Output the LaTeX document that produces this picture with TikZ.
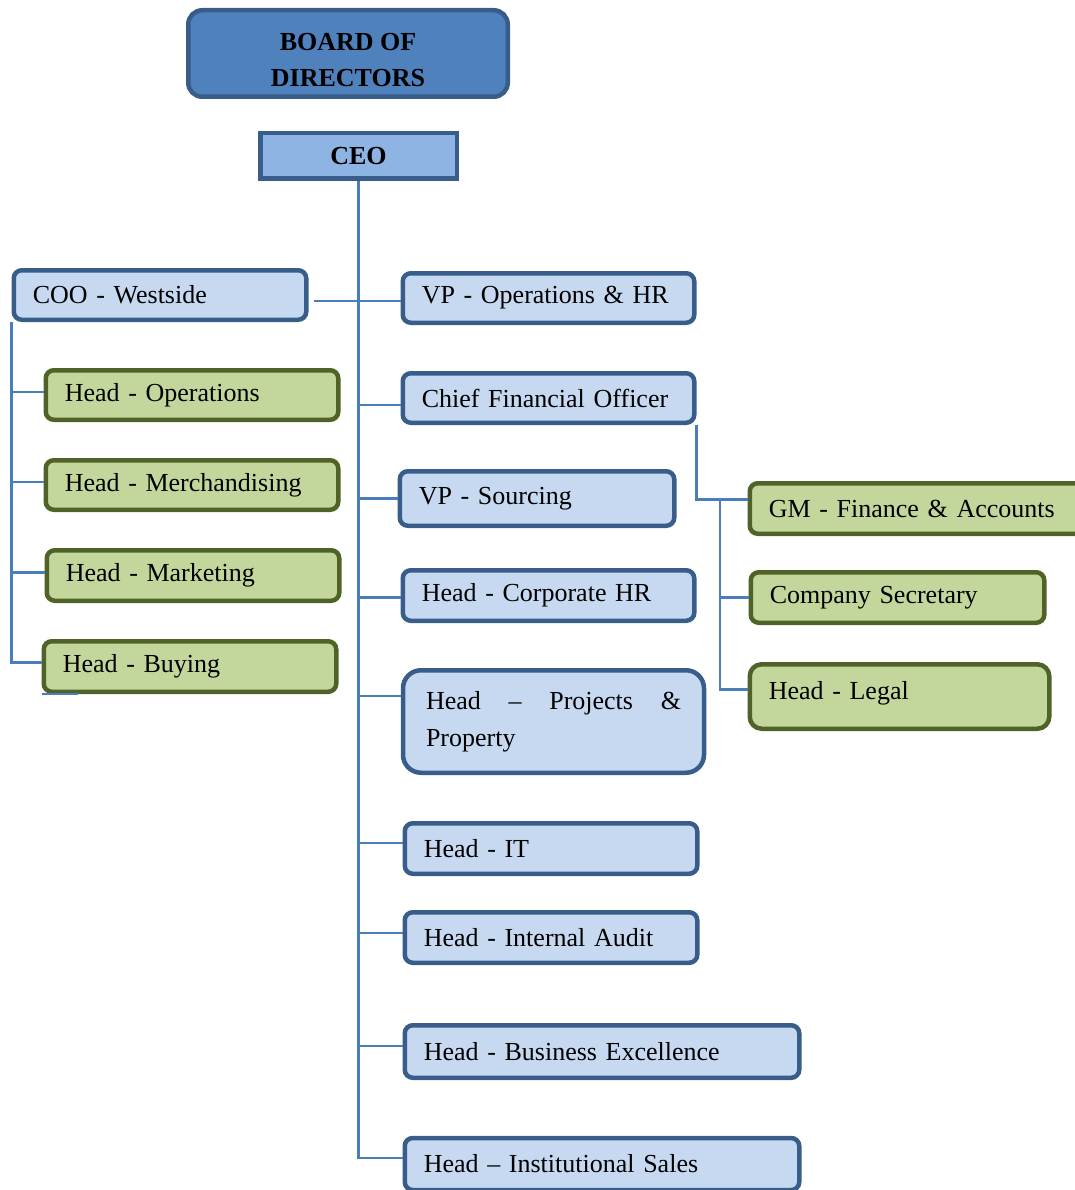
\documentclass[tikz,border=0pt]{standalone}
\usepackage{fontspec}
\setmainfont{Liberation Serif}
\usetikzlibrary{calc,positioning}
\definecolor{boardfill}{HTML}{4F81BD}
\definecolor{darkline}{HTML}{385D8A}
\definecolor{ceofill}{HTML}{8EB4E3}
\definecolor{bluefill}{HTML}{C6D9F1}
\definecolor{greenfill}{HTML}{C3D69B}
\definecolor{greenline}{HTML}{4F6228}
\definecolor{linkblue}{HTML}{4A7EBB}
\tikzset{
    x=1pt,y=-1pt,
    post/.style ={draw=darkline, fill=bluefill, line width=4.5pt, rounded corners=8pt,
                  inner xsep=19pt, inner ysep=0pt, align=left,
                  font=\fontsize{26}{37}\selectfont},
    gpost/.style={post, draw=greenline, fill=greenfill},
    link/.style ={draw=linkblue, line width=2.2pt}
}
\begin{document}
\begin{tikzpicture}
    \useasboundingbox (0,0) rectangle (1075,1190);
    \node[post, fill=boardfill, rounded corners=14pt, minimum width=319.5, minimum height=86.5,
          align=center, font=\fontsize{26}{36}\selectfont\bfseries] (board) at (348,53.5) {\rule{0pt}{30pt}BOARD OF\\DIRECTORS};
    \node[post, fill=ceofill, rounded corners=0pt, minimum width=196.5, minimum height=45.5,
          align=center, font=\fontsize{26}{37}\selectfont\bfseries] (ceo) at (358.5,156) {CEO};

    \node[post, minimum width=291.5, minimum height=49.5, text width=254.5] (coo) at (160,295) {COO - Westside};
    \node[gpost, minimum width=291.5, minimum height=49.5, text width=254.5] (hops) at (192,395) {Head - Operations};
    \node[gpost, minimum width=291.5, minimum height=49.5, text width=254.5] (merch) at (192,485) {Head - Merchandising};
    \node[gpost, minimum width=291.5, minimum height=50.5, text width=254.5] (mkt) at (193,575.5) {Head - Marketing};
    \node[gpost, minimum width=291.5, minimum height=50.5, text width=254.5] (buy) at (190,666.5) {Head - Buying};

    \node[post, minimum width=290.5, minimum height=49.5, text width=253.5] (vpops) at (548.5,298) {VP - Operations \& HR};
    \node[post, minimum width=290.5, minimum height=49.5, text width=253.5] (cfo) at (548.5,398) {Chief Financial Officer};
    \node[post, minimum width=273.5, minimum height=54.5, text width=236.5] (vpsrc) at (537,498.5) {VP - Sourcing};
    \node[post, minimum width=290.5, minimum height=50.5, text width=253.5] (corphr) at (548.5,595.5) {Head - Corporate HR};
    \node[post, rounded corners=18pt, minimum width=300.5, minimum height=102.5, text width=255,
          inner xsep=23pt, align=justify] (proj) at (553.5,721.5) {Head – Projects \& \mbox{Property}};
    \node[post, minimum width=291.5, minimum height=50.5, text width=254.5] (it) at (551,848.5) {Head - IT};
    \node[post, minimum width=291.5, minimum height=50.5, text width=254.5] (audit) at (551,937.5) {Head - Internal Audit};
    \node[post, minimum width=393.5, minimum height=52.5, text width=356.5] (bizex) at (602,1051.5) {Head - Business Excellence};
    \node[post, minimum width=393.5, minimum height=52, text width=356.5] (inst) at (602,1164) {Head – Institutional Sales};

    \node[gpost, minimum width=332.5, minimum height=50.5, text width=295.5] (gmfin) at (916.5,508.5) {GM - Finance \& Accounts};
    \node[gpost, minimum width=292.5, minimum height=50.5, text width=255.5] (cosec) at (897.5,597.5) {Company Secretary};
    \node[gpost, rounded corners=12pt, minimum width=298.5, text width=261.5,
          text height=35.5pt, text depth=29pt] (legal) at (899.5,696.5) {Head - Legal};

    \draw[link] (ceo.south) |- ([yshift=6pt]inst.west);
    \draw[link] ($(coo.east)+(5,6)$) -- ($(vpops.west)+(0,3)$);
    \draw[link] ([yshift=-7pt]cfo.west) -- ([yshift=-7pt]cfo.west -| ceo.south);
    \draw[link] (vpsrc.west) -- (vpsrc.west -| ceo.south);
    \draw[link] ([yshift=-2pt]corphr.west) -- ([yshift=-2pt]corphr.west -| ceo.south);
    \draw[link] ([yshift=25.5pt]proj.west) -- ([yshift=25.5pt]proj.west -| ceo.south);
    \draw[link] ([yshift=5.5pt]it.west) -- ([yshift=5.5pt]it.west -| ceo.south);
    \draw[link] ([yshift=4.5pt]audit.west) -- ([yshift=4.5pt]audit.west -| ceo.south);
    \draw[link] ([yshift=5.5pt]bizex.west) -- ([yshift=5.5pt]bizex.west -| ceo.south);

    \draw[link] (coo.south west) |- ([yshift=4pt]buy.west);
    \draw[link] ([yshift=3pt]hops.west) -- ([yshift=3pt]hops.west -| coo.south west);
    \draw[link] ([yshift=3pt]merch.west) -- ([yshift=3pt]merch.west -| coo.south west);
    \draw[link] ([yshift=3pt]mkt.west) -- ([yshift=3pt]mkt.west -| coo.south west);
    \draw[link] (buy.south west) -- ++(36,0);

    \coordinate (fbus) at (720,499);
    \draw[link] (cfo.south east) |- ([yshift=9pt]gmfin.west);
    \draw[link] (fbus) |- ([yshift=7pt]legal.west);
    \draw[link] (cosec.west) -- (cosec.west -| fbus);
\end{tikzpicture}
\end{document}
